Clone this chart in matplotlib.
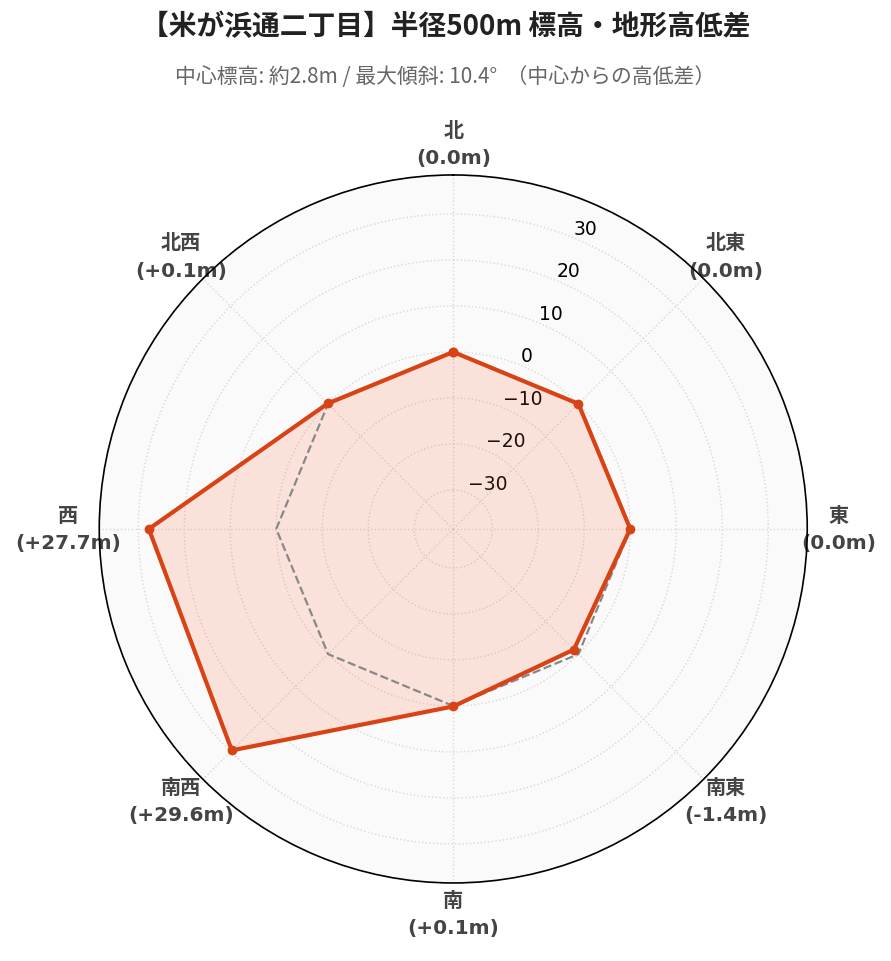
import matplotlib.pyplot as plt
import numpy as np

plt.rcParams['font.family'] = ['Noto Sans CJK JP', 'DejaVu Sans']

# データ
directions = ['北', '北東', '東', '南東', '南', '南西', '西', '北西']
diffs = [0.0, 0.0, 0.0, -1.4, 0.1, 29.6, 27.7, 0.1]
rticks = [-30, -20, -10, 0, 10, 20, 30]

title = '【米が浜通二丁目】半径500m 標高・地形高低差'
subtitle = '中心標高: 約2.8m / 最大傾斜: 10.4°  （中心からの高低差）'

n = len(directions)
angles = np.linspace(0, 2 * np.pi, n, endpoint=False)
ang_c = np.append(angles, angles[0])
val_c = np.append(diffs, diffs[0])

labels = []
for d, v in zip(directions, diffs):
    if v > 0:
        labels.append(f'{d}\n(+{v:.1f}m)')
    else:
        labels.append(f'{d}\n({v:.1f}m)')

fig = plt.figure(figsize=(8.91, 9.62), dpi=100)
ax = fig.add_axes([0.1114, 0.0811, 0.7946, 0.7360], projection='polar')
ax.set_theta_zero_location('N')
ax.set_theta_direction(-1)
ax.set_facecolor('#fafafa')

rmax = max(abs(v) for v in diffs) * 1.3
ax.set_ylim(-rmax, rmax)

col = '#d84315'
ax.fill(ang_c, val_c, color='#ff5722', alpha=0.15, zorder=2)
# 基準線 (0m)
ax.plot(ang_c, np.zeros(len(ang_c)), color='#888888', linestyle='--', linewidth=1.6, zorder=3)
ax.plot(ang_c, val_c, color=col, linewidth=3, marker='o', markersize=6, zorder=4)

ax.set_xticks(angles)
ax.set_xticklabels(labels, fontsize=14.5, fontweight='bold', color='#444444',
                   family=['DejaVu Sans', 'Noto Sans CJK JP'], linespacing=1.55)
ax.tick_params(axis='x', pad=12)
ax.set_yticks(rticks)
ax.set_yticklabels([f'{t}' if t >= 0 else f'\u2212{abs(t)}' for t in rticks],
                   fontsize=13.5, family='DejaVu Sans')
ax.grid(color='#d8d8d8', linestyle=':', linewidth=1)
ax.spines['polar'].set_color('black')
ax.spines['polar'].set_linewidth(1.2)

fig.text(0.5, 0.972, title, ha='center', va='center', fontsize=20, fontweight='bold', color='#222222')
fig.text(0.5, 0.920, subtitle, ha='center', va='center', fontsize=15, color='#666666')

fig.savefig('out.png', dpi=100)
